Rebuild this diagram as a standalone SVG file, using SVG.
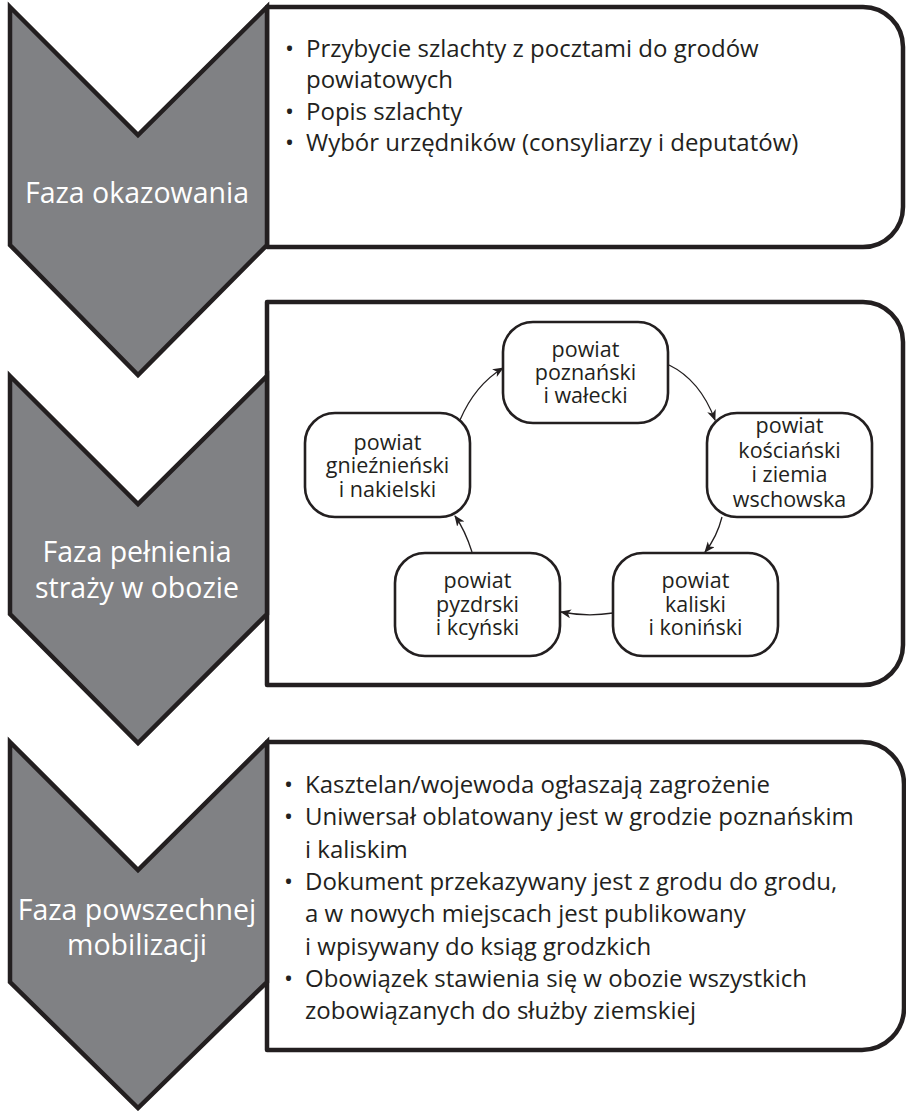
<svg xmlns="http://www.w3.org/2000/svg" width="906" height="1111" viewBox="0 0 906 1111">
<defs>
<style>
.box{fill:#fff;stroke:#231f20;stroke-width:4.5;stroke-linejoin:round}
.chev{fill:#808184;stroke:#231f20;stroke-width:4.5;stroke-linejoin:miter}
.lab{font-family:"Open Sans","Noto Sans",sans-serif;font-size:28.5px;fill:#fff;text-anchor:middle}
.txt{font-family:"Open Sans","Noto Sans",sans-serif;font-size:24px;fill:#231f20}
.node rect{fill:#fff;stroke:#231f20;stroke-width:2.6}
.nt{font-family:"Open Sans","Noto Sans",sans-serif;font-size:21.5px;fill:#231f20;text-anchor:middle}
.conn path{fill:none;stroke:#231f20;stroke-width:1.3;marker-end:url(#ah)}
</style>
<marker id="ah" markerUnits="userSpaceOnUse" markerWidth="12" markerHeight="10" refX="10" refY="4.5" orient="auto">
<path d="M0,0 L11,4.5 L0,9 L3,4.5 Z" fill="#231f20"/>
</marker>
</defs>
<rect width="906" height="1111" fill="#fff"/>

<g id="box1">
<path class="box" d="M267,7 H863 A40,40 0 0 1 903,47 V207 A40,40 0 0 1 863,247 H267 Z"/>
<g class="txt">
<text x="285" y="57">•</text><text x="306" y="57">Przybycie szlachty z pocztami do grodów</text>
<text x="306" y="88">powiatowych</text>
<text x="285" y="120">•</text><text x="306" y="120">Popis szlachty</text>
<text x="285" y="151">•</text><text x="306" y="151">Wybór urzędników (consyliarzy i deputatów)</text>
</g>
</g>

<g id="box2">
<path class="box" d="M267,302 H863 A40,40 0 0 1 903,342 V645 A40,40 0 0 1 863,685 H267 Z"/>
</g>

<g id="box3">
<path class="box" d="M267,742 H862 A42,42 0 0 1 904,784 V1008 A42,42 0 0 1 862,1050 H267 Z"/>
<g class="txt">
<text x="284" y="793">•</text><text x="305" y="793">Kasztelan/wojewoda ogłaszają zagrożenie</text>
<text x="284" y="825">•</text><text x="305" y="825">Uniwersał oblatowany jest w grodzie poznańskim</text>
<text x="305" y="858">i kaliskim</text>
<text x="284" y="890">•</text><text x="305" y="890">Dokument przekazywany jest z grodu do grodu,</text>
<text x="305" y="922">a w nowych miejscach jest publikowany</text>
<text x="305" y="955">i wpisywany do ksiąg grodzkich</text>
<text x="284" y="987">•</text><text x="305" y="987">Obowiązek stawienia się w obozie wszystkich</text>
<text x="305" y="1019">zobowiązanych do służby ziemskiej</text>
</g>
</g>

<g id="phase1">
<path class="chev" d="M10,7 L138,135 L267,7 L267,245 L138,375 L10,245 Z"/>
<text class="lab" x="137" y="203">Faza okazowania</text>
</g>
<g id="phase2">
<path class="chev" d="M10,376 L138,504 L267,376 L267,614 L138,743 L10,614 Z"/>
<text class="lab" x="137" y="562">Faza pełnienia</text>
<text class="lab" x="137" y="598">straży w obozie</text>
</g>
<g id="phase3">
<path class="chev" d="M10,742 L138,870 L267,742 L267,982 L138,1108 L10,982 Z"/>
<text class="lab" x="137" y="920">Faza powszechnej</text>
<text class="lab" x="137" y="955">mobilizacji</text>
</g>

<g id="n-poznanski" class="node">
<rect x="503" y="322" width="165" height="101" rx="30"/>
<text class="nt" x="585.5" y="357">powiat</text>
<text class="nt" x="585.5" y="380">poznański</text>
<text class="nt" x="585.5" y="403">i wałecki</text>
</g>
<g id="n-koscianski" class="node">
<rect x="707" y="413" width="165" height="104" rx="30"/>
<text class="nt" x="789.5" y="433">powiat</text>
<text class="nt" x="789.5" y="458">kościański</text>
<text class="nt" x="789.5" y="482">i ziemia</text>
<text class="nt" x="789.5" y="507">wschowska</text>
</g>
<g id="n-kaliski" class="node">
<rect x="613" y="553" width="165" height="103" rx="30"/>
<text class="nt" x="695.5" y="588">powiat</text>
<text class="nt" x="695.5" y="612">kaliski</text>
<text class="nt" x="695.5" y="635">i koniński</text>
</g>
<g id="n-pyzdrski" class="node">
<rect x="395" y="553" width="165" height="103" rx="30"/>
<text class="nt" x="477.5" y="588">powiat</text>
<text class="nt" x="477.5" y="612">pyzdrski</text>
<text class="nt" x="477.5" y="635">i kcyński</text>
</g>
<g id="n-gnieznienski" class="node">
<rect x="305" y="413" width="165" height="104" rx="30"/>
<text class="nt" x="387.5" y="450">powiat</text>
<text class="nt" x="387.5" y="473">gnieźnieński</text>
<text class="nt" x="387.5" y="497">i nakielski</text>
</g>

<g id="connectors" class="conn">
<path d="M460,420 Q475,385 503,368"/>
<path d="M669,365 Q700,380 715,420"/>
<path d="M722,517 Q717,537 705,552"/>
<path d="M613,613 Q587,617 561,612"/>
<path d="M472,552 Q465,530 455,516"/>
</g>
</svg>
